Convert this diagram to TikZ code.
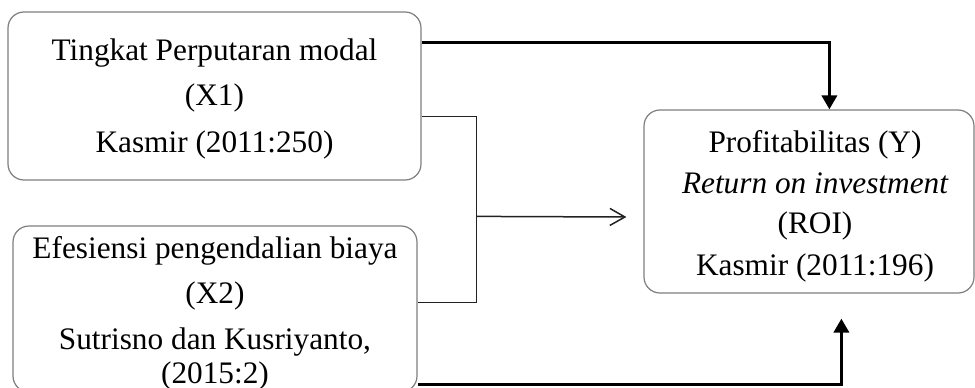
\documentclass[tikz,border=0pt]{standalone}
\usepackage{fontspec}
\setmainfont{Liberation Serif}
\usetikzlibrary{arrows.meta,calc}
\definecolor{boxgray}{HTML}{7F7F7F}
\definecolor{thinline}{HTML}{222222}
\begin{document}
\begin{tikzpicture}[x=1pt,y=-1pt,
  boxnode/.style={draw=boxgray,line width=1.2pt,rounded corners=16pt,inner sep=0pt,fill=none},
  txt/.style={inner sep=0pt,anchor=base,font=\fontsize{31.3}{38}\selectfont},
  thickconn/.style={line width=3.6pt,-{Triangle[length=14pt,width=15pt]}},
  thinconn/.style={line width=1.5pt,draw=thinline}]
\useasboundingbox (0,0) rectangle (975,388);
\fill[white] (0,0) rectangle (975,388);
% boxes
\node[boxnode,minimum width=413pt,minimum height=168pt] (b1) at (214.5,96) {};
\node[boxnode,minimum width=404pt,minimum height=166pt] (b2) at (215,309) {};
\node[boxnode,minimum width=330pt,minimum height=183pt] (y) at (809,201.5) {};
% texts box 1
\node[txt] (t11) at (214.5,60) {Tingkat Perputaran modal};
\node[txt] (t12) at (214.5,105) {(X1)};
\node[txt] (t13) at (214.5,152) {Kasmir (2011:250)};
% texts box 2
\node[txt] (t21) at (215,258) {Efesiensi pengendalian biaya};
\node[txt] (t22) at (215,303) {(X2)};
\node[txt] (t23) at (215,349) {Sutrisno dan Kusriyanto,};
\node[txt] (t24) at (215,383) {(2015:2)};
% texts box Y
\node[txt] (t31) at (815,152) {Profitabilitas (Y)};
\node[txt] (t32) at (815,193) {\itshape Return on investment};
\node[txt] (t33) at (815,233) {(ROI)};
\node[txt] (t34) at (815,275) {Kasmir (2011:196)};
% thin joining lines
\coordinate (j) at ($(b2.north east)+(59,-9)$);
\draw[thinconn] ($(b1.north east)+(0,105)$) -| ($(b2.north east)+(59,77)$) -- ($(b2.north east)+(0,77)$);
\draw[thinconn,-{Straight Barb[length=15pt,width=17pt,line width=1.5pt]}] (j) -- ($(y.west)+(-17,15.5)$);
% thick arrows
\draw[thickconn] ($(b1.north east)+(0,31)$) -| ($(y.north west)+(186,0)$);
\draw[thickconn] ($(b2.north east)+(0,159)$) -| ($(y.south west)+(198,25)$);
\end{tikzpicture}
\end{document}
